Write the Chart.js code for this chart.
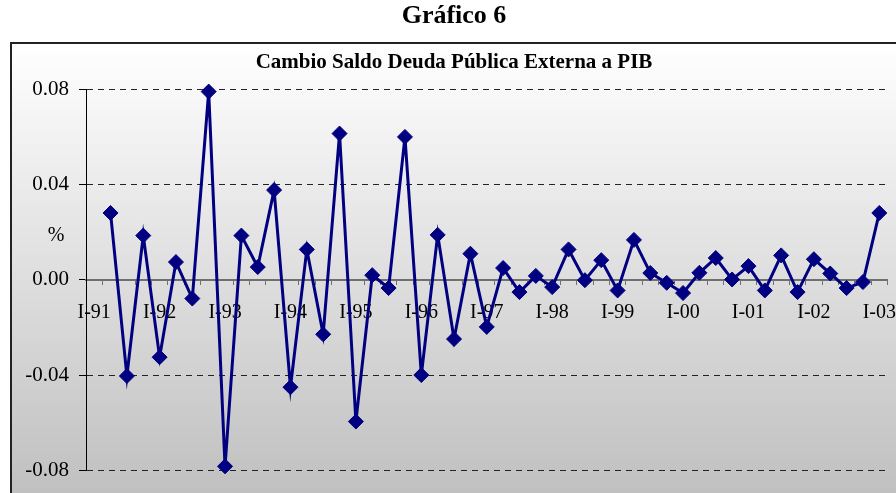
<!DOCTYPE html>
<html>
<head>
<meta charset="utf-8">
<script src="https://cdn.jsdelivr.net/npm/chart.js@4/dist/chart.umd.min.js"></script>
<style>
  html, body { margin: 0; padding: 0; background: #fff; }
  #wrap { width: 896px; height: 493px; }
</style>
</head>
<body>
<div id="wrap"><canvas id="deudaChart" width="896" height="493"></canvas></div>
<script>
// Quarterly categories I-91 .. I-03 (only the "I-" quarter is labelled on the axis)
const years = ['91', '92', '93', '94', '95', '96', '97', '98', '99', '00', '01', '02'];
const quarters = ['I', 'II', 'III', 'IV'];
const categories = [];
years.forEach(y => quarters.forEach(q => categories.push(q + '-' + y)));
categories.push('I-03');

// Change in external public debt / GDP (first quarter has no value)
const cambioDeuda = [
  null, 0.0280, -0.0404, 0.0185, -0.0325, 0.0074, -0.0079, 0.0789,
  -0.0783, 0.0185, 0.0053, 0.0376, -0.0451, 0.0127, -0.0229, 0.0613,
  -0.0595, 0.0019, -0.0035, 0.0599, -0.0400, 0.0188, -0.0249, 0.0109,
  -0.0198, 0.0049, -0.0052, 0.0016, -0.0031, 0.0127, -0.0002, 0.0082,
  -0.0045, 0.0167, 0.0028, -0.0013, -0.0056, 0.0029, 0.0091, 0.0001,
  0.0057, -0.0045, 0.0102, -0.0052, 0.0086, 0.0026, -0.0035, -0.0010,
  0.0280
];

const yTicks = [-0.08, -0.04, 0.00, 0.04, 0.08];

Chart.defaults.font.family = '"Liberation Serif", "Times New Roman", serif';
Chart.defaults.color = '#000';

// grey gradient box behind the chart, with the dark frame on left/top
const boxBackground = {
  id: 'boxBackground',
  beforeDraw(chart) {
    const ctx = chart.ctx;
    const top = 42, left = 10;
    const g = ctx.createLinearGradient(0, top, 0, chart.height);
    g.addColorStop(0, '#ffffff');
    g.addColorStop(1, '#c0c0c0');
    ctx.save();
    ctx.fillStyle = g;
    ctx.fillRect(left, top, chart.width - left, chart.height - top);
    ctx.strokeStyle = '#222';
    ctx.lineWidth = 2;
    ctx.beginPath();
    ctx.moveTo(left + 1, chart.height);
    ctx.lineTo(left + 1, top + 1);
    ctx.lineTo(chart.width, top + 1);
    ctx.stroke();
    ctx.restore();
  }
};

// horizontal "%" axis title
const percentLabel = {
  id: 'percentLabel',
  afterDraw(chart) {
    const ctx = chart.ctx;
    const y = chart.scales.y.getPixelForValue(0.0185);
    ctx.save();
    ctx.font = '20px "Liberation Serif", serif';
    ctx.fillStyle = '#000';
    ctx.textAlign = 'center';
    ctx.textBaseline = 'middle';
    ctx.fillText('%', 56, y);
    ctx.restore();
  }
};

new Chart(document.getElementById('deudaChart'), {
  type: 'line',
  data: {
    labels: categories,
    datasets: [{
      label: 'Cambio Saldo Deuda Pública Externa a PIB',
      data: cambioDeuda,
      borderColor: '#000080',
      backgroundColor: '#000080',
      borderWidth: 3,
      pointStyle: 'rectRot',
      pointRadius: 7.5,
      pointBorderWidth: 1,
      pointBorderColor: '#000080',
      pointBackgroundColor: '#000080',
      tension: 0,
      clip: false
    }]
  },
  options: {
    responsive: false,
    animation: false,
    layout: { padding: { left: 19, right: 7, top: 0, bottom: 0 } },
    plugins: {
      legend: { display: false },
      tooltip: { enabled: false },
      title: {
        display: true,
        text: 'Gráfico 6',
        font: { size: 26, weight: 'bold' },
        color: '#000',
        padding: { top: 1, bottom: 10 }
      },
      subtitle: {
        display: true,
        text: 'Cambio Saldo Deuda Pública Externa a PIB',
        font: { size: 21, weight: 'bold' },
        color: '#000',
        padding: { top: 8, bottom: 13.6 }
      }
    },
    scales: {
      x: {
        type: 'category',
        position: { y: 0 },
        offset: true,
        grid: {
          offset: true,
          drawOnChartArea: false,
          drawTicks: true,
          tickLength: 4,
          tickColor: '#707070',
          tickWidth: 1
        },
        border: { display: true, color: '#707070', width: 2 },
        ticks: {
          autoSkip: false,
          maxRotation: 0,
          minRotation: 0,
          padding: 17,
          color: '#000',
          font: { size: 20 },
          callback(value, index) {
            return index % 4 === 0 ? this.getLabelForValue(value) : '';
          }
        },
        afterFit(scale) {
          scale.height = 21;
          scale.paddingLeft = 0;
          scale.paddingRight = 0;
        }
      },
      y: {
        min: yTicks[0],
        max: yTicks[yTicks.length - 1],
        afterBuildTicks(scale) {
          scale.ticks = yTicks.map(v => ({ value: v }));
        },
        grid: {
          color: ctx => (ctx.tick && ctx.tick.value === 0) ? 'rgba(0,0,0,0)' : '#222',
          lineWidth: 1,
          tickLength: 7,
          tickColor: '#000',
          tickBorderDash: []
        },
        border: { display: true, color: '#000', width: 1, dash: [6, 5] },
        ticks: {
          padding: 10,
          color: '#000',
          font: { size: 21 },
          callback: v => v.toFixed(2)
        },
        afterFit(scale) {
          scale.width = 67;
        }
      }
    }
  },
  plugins: [boxBackground, percentLabel]
});
</script>
</body>
</html>
